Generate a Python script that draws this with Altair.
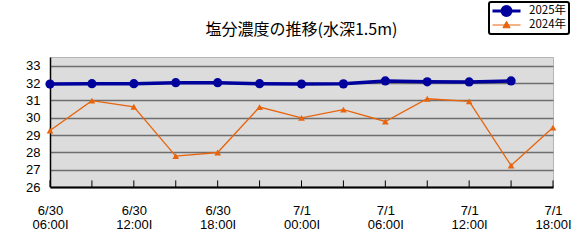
import json
import altair as alt
import pandas as pd

# ---- data ----
x_index = list(range(13))
date_labels = ["6/30", "6/30", "6/30", "7/1", "7/1", "7/1", "7/1"]
time_labels = ["06:00I", "12:00I", "18:00I", "00:00I", "06:00I", "12:00I", "18:00I"]
label_positions = [0, 2, 4, 6, 8, 10, 12]
series_names = ["2025年", "2024年"]
salinity_2025 = [31.94, 31.96, 31.96, 32.02, 32.02, 31.96, 31.94, 31.95, 32.12, 32.07, 32.06, 32.12]
salinity_2024 = [29.26, 30.98, 30.63, 27.78, 27.99, 30.61, 29.99, 30.46, 29.78, 31.09, 30.94, 27.24, 29.43]
y_ticks = [26, 27, 28, 29, 30, 31, 32, 33]
title_text = "塩分濃度の推移(水深1.5m)"

rows = []
for i, v in enumerate(salinity_2025):
    rows.append({"idx": i, "val": v, "series": series_names[0]})
for i, v in enumerate(salinity_2024):
    rows.append({"idx": i, "val": v, "series": series_names[1]})
df = pd.DataFrame(rows)
ticks_df = pd.DataFrame({"idx": x_index, "val": [26] * 13, "y1": [26.38] * 13})

colors = ["#00009c", "#e8640c"]
line_widths = [3.5, 1.3]
legend_shapes = [
    "M-1.35,0M-1,0H1M0.32,0A0.32,0.32,0,1,1,-0.32,0A0.32,0.32,0,1,1,0.32,0Z",
    "M-1.35,0M-1,0H1M0,-0.26L0.26,0.2L-0.26,0.2Z",
]

label_pairs = [[d, t] for d, t in zip(date_labels, time_labels)]
label_expr = json.dumps(label_pairs, ensure_ascii=False) + "[floor(datum.value/2)]"

x_axis = alt.Axis(
    values=label_positions, labelExpr=label_expr, ticks=False, grid=False,
    title=None, domainColor="#000000", domainWidth=2, labelPadding=17,
    labelLineHeight=14, labelFont="Liberation Sans", labelFontSize=13,
    labelColor="#000000", labelAngle=0, labelFlush=False, labelOverlap=False,
)
y_axis = alt.Axis(
    values=y_ticks, ticks=False, grid=True, gridColor="#6e6e6e", gridWidth=1.5,
    title=None, domainColor="#000000", domainWidth=1.5, labelPadding=10,
    labelFont="Liberation Sans", labelFontSize=13, labelColor="#000000",
    labelOverlap=False,
)
x_scale = alt.Scale(domain=[0, 12], nice=False, zero=False)
y_scale = alt.Scale(domain=[26, 33.5], nice=False, zero=False)


def X():
    return alt.X("idx:Q", scale=x_scale, axis=x_axis)


def Y(field="val"):
    return alt.Y(f"{field}:Q", scale=y_scale, axis=y_axis)


def series_data(k):
    return alt.Chart(df).transform_filter(alt.datum.series == series_names[k])


lines25 = series_data(0).mark_line(strokeWidth=line_widths[0], color=colors[0]).encode(x=X(), y=Y())
lines24 = series_data(1).mark_line(strokeWidth=line_widths[1], color=colors[1]).encode(x=X(), y=Y())
pts25 = series_data(0).mark_point(
    filled=True, shape="circle", size=85, opacity=1, color=colors[0]
).encode(x=X(), y=Y())
pts24 = series_data(1).mark_point(
    filled=True, shape="triangle-up", size=45, opacity=1, color=colors[1]
).encode(x=X(), y=Y())
ticks = alt.Chart(ticks_df).mark_rule(color="#000000", strokeWidth=1).encode(
    x=X(), y=Y(), y2="y1:Q"
)

leg = alt.Legend(
    title=None, orient="none", legendX=439, legendY=-55,
    symbolSize=784, symbolOpacity=1, labelOffset=7,
    labelFont="Noto Sans CJK JP", labelFontSize=11.5, labelColor="#000000",
    labelExpr="datum.label + '  '",
    padding=2, rowPadding=0, clipHeight=14,
    strokeColor="#000000", fillColor="#ffffff", cornerRadius=2,
)
legend_layer = alt.Chart(df).mark_point(opacity=0).encode(
    x=X(), y=Y(),
    stroke=alt.Stroke("series:N", scale=alt.Scale(domain=series_names, range=colors), legend=leg),
    fill=alt.Fill("series:N", scale=alt.Scale(domain=series_names, range=colors), legend=leg),
    shape=alt.Shape("series:N", scale=alt.Scale(domain=series_names, range=legend_shapes), legend=leg),
    strokeWidth=alt.StrokeWidth("series:N", scale=alt.Scale(domain=series_names, range=[3, 1]), legend=leg),
)

chart = alt.layer(ticks, lines24, lines25, pts24, pts25, legend_layer).properties(
    width=503, height=130,
    title=alt.TitleParams(title_text, font="Noto Sans CJK JP", fontSize=16,
                          fontWeight="normal", color="#000000", anchor="middle",
                          offset=0, dy=37),
    autosize=alt.AutoSizeParams(type="none"),
    padding={"left": 50, "top": 57, "right": 28, "bottom": 58},
    background="#ffffff",
).configure_view(
    fill="#dcdcdc", stroke="#b4b4b4", strokeWidth=1
).configure_legend(
    strokeWidth=2
)

chart.save("out.html", embed_options={"renderer": "svg", "actions": False})
